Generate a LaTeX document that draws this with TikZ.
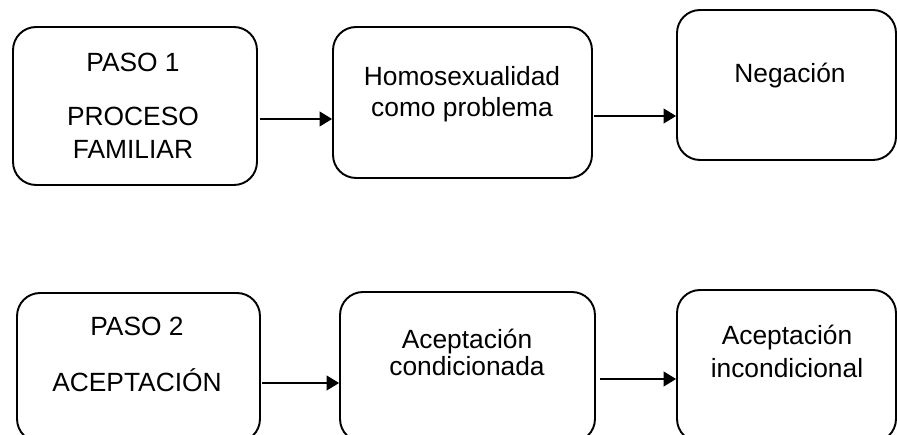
\documentclass[tikz,border=0pt]{standalone}
\usepackage{fontspec}
\setmainfont{Liberation Sans}
\usetikzlibrary{arrows.meta}

\tikzset{
    caja/.style={draw, line width=1.1pt, rounded corners=0.46cm, inner sep=0pt},
    texto/.style={align=center, anchor=base, inner sep=0pt, font=\fontsize{15}{19.2}\selectfont},
    flecha/.style={line width=0.6pt, -{Triangle[length=0.25cm,width=0.3cm]}}
}

\begin{document}
\begin{tikzpicture}[x=0.02cm, y=-0.02cm]
            \useasboundingbox (0,0) rectangle (897,435);
            \clip (0,0) rectangle (897,435);

            % fila de arriba
            \node[caja, minimum width=4.88cm, minimum height=3.16cm] (paso1) at (135,106) {};
            \node[caja, minimum width=5.18cm, minimum height=3.02cm] (homo) at (462.5,102.5) {};
            \node[caja, minimum width=4.38cm, minimum height=3.00cm] (negacion) at (786.5,85) {};

            \node[texto] (tpaso1) at (133,72) {PASO 1};
            \node[texto] (tproceso) at (133,159) {PROCESO\\FAMILIAR};% base = ultima linea
            \node[texto, font=\fontsize{15}{18.2}\selectfont] (thomo) at (462,117) {Homosexualidad\\como problema};
            \node[texto] (tnegacion) at (790,83) {Negación};

            % fila de abajo
            \node[caja, minimum width=4.86cm, minimum height=2.98cm] (paso2) at (138.5,367.5) {};
            \node[caja, minimum width=5.10cm, minimum height=3.00cm] (condic) at (467.5,367) {};
            \node[caja, minimum width=4.38cm, minimum height=3.04cm] (incond) at (786.5,366) {};

            \node[texto] (tpaso2) at (137,336) {PASO 2};
            \node[texto] (tacept) at (137,392) {ACEPTACIÓN};
            \node[texto, font=\fontsize{15}{15.6}\selectfont] (tcondic) at (467,376) {Aceptación\\condicionada};
            \node[texto] (tincond) at (787,378) {Aceptación\\incondicional};

            % flechas
            \coordinate (f1) at (260,119);
            \coordinate (f2) at (594,116);
            \coordinate (f3) at (262,383);
            \coordinate (f4) at (600,379);
            \draw[flecha] (f1) -- (homo.west |- f1);
            \draw[flecha] (f2) -- (negacion.west |- f2);
            \draw[flecha] (f3) -- (condic.west |- f3);
            \draw[flecha] (f4) -- (incond.west |- f4);
        \end{tikzpicture}
\end{document}
